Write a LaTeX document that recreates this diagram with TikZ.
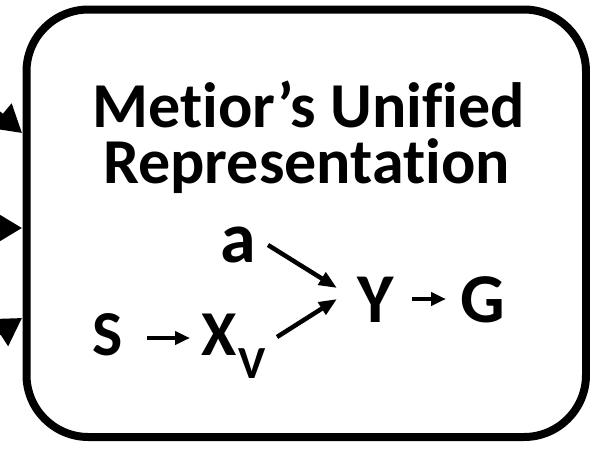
\documentclass[tikz,border=0pt]{standalone}
\usepackage{fontspec}
\setmainfont{Carlito}[Ligatures={NoCommon,NoContextual}]
\usetikzlibrary{arrows.meta,calc}
\tikzset{
  frame/.style={draw, line width=8pt, rounded corners=62pt, minimum width=559.5pt, minimum height=427.5pt, inner sep=0pt},
  title/.style={inner sep=0pt, anchor=base, text height=44pt, font=\bfseries\fontsize{64}{64}\selectfont},
  sym/.style={inner sep=0pt, anchor=base west, font=\bfseries\fontsize{#1}{#1}\selectfont},
  arr/.style={line width=4.5pt, -{Triangle[length=18pt,width=14pt]}},
  sarr/.style={line width=4pt, -{Triangle[length=15pt,width=13pt]}},
  bigarr/.style={line width=5pt, -{Triangle[length=27pt,width=31pt]}}
}
\begin{document}
\begin{tikzpicture}[x=1pt,y=-1pt]
\useasboundingbox (0,0) rectangle (590,448);
\clip (0,0) rectangle (590,448);
\node[frame] (box) at (306.25,223.25) {};
\node[title, text depth=0pt] (t1) at (309,127) {Met\kern0pt ior’s Unif\kern0pt ied};
\node[title, text depth=14pt] (t2) at (306.5,183) {Representat\kern0pt ion};
\node[sym=72] (a) at (220,262) {a};
\node[sym=64] (S) at (92,355) {S};
\node[sym=64] (X) at (201,355) {X};
\node[sym=46] (V) at (238,378) {V};
\node[sym=70] (Y) at (357,322) {Y};
\node[sym=70] (G) at (460,322) {G};
\draw[sarr] ([shift={(55,-17)}]S.base west) -- ([shift={(-11,-17)}]X.base west);
\draw[arr] ([shift={(48,-17)}]a.base west) -- ([shift={(-20,-34)}]Y.base west);
\draw[arr] ([shift={(39,-41)}]V.base west) -- ([shift={(-20,-23)}]Y.base west);
\draw[sarr] ([shift={(55,-23)}]Y.base west) -- ([shift={(-14,-23)}]G.base west);
\coordinate (in1) at (22,133);
\coordinate (src1) at (-55,68.7);
\coordinate (in2) at (22,228);
\coordinate (src2) at (-80,228);
\coordinate (in3) at (22,318);
\coordinate (src3) at (-62,372.5);
\draw[bigarr] (src1) -- (in1);
\draw[bigarr] (src2) -- (in2);
\draw[bigarr] (src3) -- (in3);
\end{tikzpicture}
\end{document}
